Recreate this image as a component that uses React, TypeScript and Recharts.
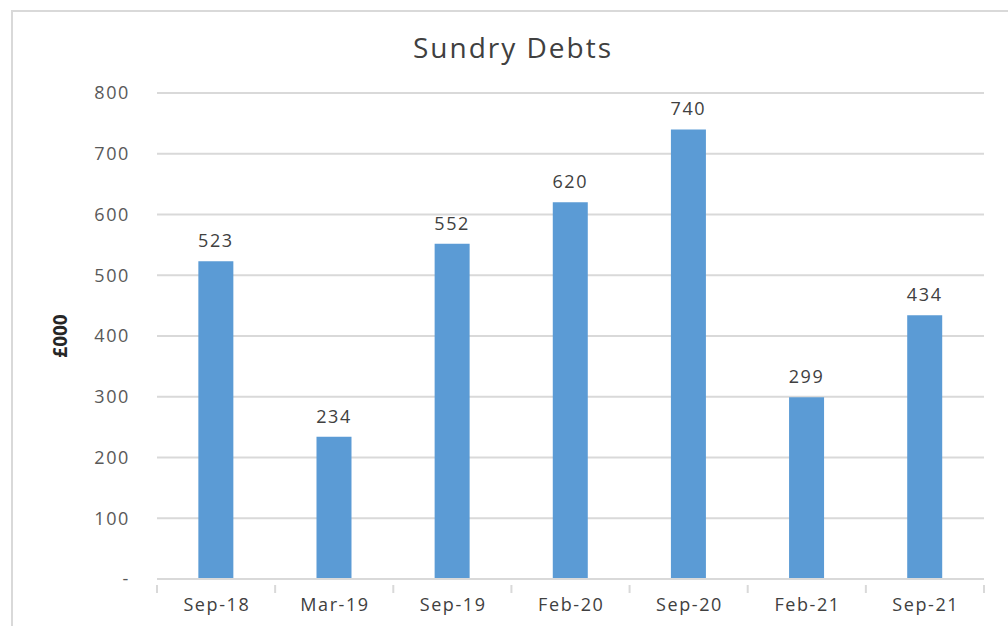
import { Bar, BarChart, CartesianGrid, LabelList, XAxis, YAxis } from 'recharts';

const periods = ['Sep-18', 'Mar-19', 'Sep-19', 'Feb-20', 'Sep-20', 'Feb-21', 'Sep-21'];
const debts = [523, 234, 552, 620, 740, 299, 434];
const yTicks = [0, 100, 200, 300, 400, 500, 600, 700, 800];

const data = periods.map((period, i) => ({ period, debts: debts[i] }));

const FONT = '"Open Sans", Calibri, sans-serif';
const GRID = '#d9d9d9';
const SPACING = 1.6;

/** Category tick: label at centre, tick marks on the band boundaries. */
function PeriodTick(props: any) {
  const { x, y, payload, index } = props;
  const half = payload?.offset ?? 59;
  return (
    <g>
      <line x1={x - half} x2={x - half} y1={y - 2} y2={y + 6} stroke={GRID} strokeWidth={2} />
      {index === periods.length - 1 && (
        <line x1={x + half} x2={x + half} y1={y - 2} y2={y + 6} stroke={GRID} strokeWidth={2} />
      )}
      <text
        x={x + SPACING / 2}
        y={y + 24}
        textAnchor="middle"
        fill="#404040"
        fontSize={18}
        letterSpacing={SPACING}
        fontFamily={FONT}
      >
        {payload.value}
      </text>
    </g>
  );
}

export default function App() {
  return (
    <div
      style={{
        position: 'absolute',
        left: 0,
        top: 0,
        width: 1008,
        height: 626,
        background: '#fff',
        fontFamily: FONT,
      }}
    >
      <div
        style={{
          position: 'absolute',
          left: 11,
          top: 10,
          right: 0,
          bottom: 0,
          borderTop: `2px solid ${GRID}`,
          borderLeft: `2px solid ${GRID}`,
        }}
      />
      <div
        style={{
          position: 'absolute',
          top: 28,
          left: 0,
          width: 1026,
          textAlign: 'center',
          fontSize: 28,
          letterSpacing: 2,
          color: '#404040',
        }}
      >
        Sundry Debts
      </div>
      <div
        style={{
          position: 'absolute',
          left: 60,
          top: 336,
          transform: 'translate(-50%, -50%) rotate(-90deg)',
          fontSize: 19,
          fontWeight: 'bold',
          color: '#262626',
        }}
      >
        £000
      </div>
      <div style={{ position: 'absolute', left: 0, top: 0 }}>
        <BarChart
          width={1008}
          height={626}
          data={data}
          margin={{ top: 93, right: 24, bottom: 17, left: 0 }}
          barCategoryGap="35%"
        >
          <CartesianGrid vertical={false} stroke={GRID} strokeWidth={2} />
          <XAxis
            dataKey="period"
            axisLine={{ stroke: GRID, strokeWidth: 2 }}
            tickLine={false}
            height={30}
            tick={<PeriodTick />}
            interval={0}
          />
          <YAxis
            width={157}
            domain={[0, 800]}
            ticks={yTicks}
            axisLine={false}
            tickLine={false}
            tickSize={0}
            tickMargin={27}
            tick={{ fill: '#595959', fontSize: 18, fontFamily: FONT, letterSpacing: SPACING }}
            tickFormatter={(v) => (v === 0 ? '-' : String(v))}
          />
          <Bar dataKey="debts" fill="#5b9bd5" isAnimationActive={false}>
            <LabelList
              dataKey="debts"
              position="top"
              offset={14}
              fill="#404040"
              fontSize={18}
              letterSpacing={SPACING}
              fontFamily={FONT}
            />
          </Bar>
        </BarChart>
      </div>
    </div>
  );
}
